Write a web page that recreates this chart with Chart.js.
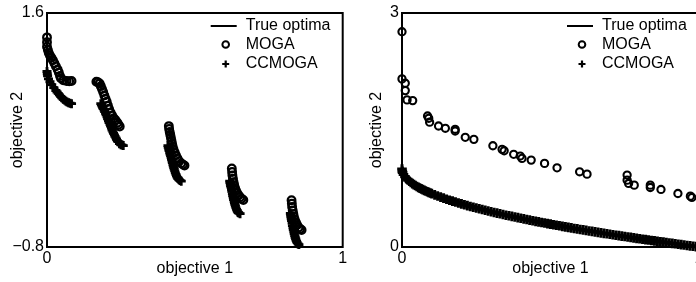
<!DOCTYPE html>
<html>
<head>
<meta charset="utf-8">
<script src="https://cdn.jsdelivr.net/npm/chart.js@4.4.1/dist/chart.umd.min.js"></script>
<style>
  html, body { margin: 0; padding: 0; background: #fff; overflow: hidden; }
  #wrap { position: relative; width: 696px; height: 282px; overflow: hidden; }
  canvas { position: absolute; top: 0; }
  #left { left: 0; }
  #right { left: 350px; }
</style>
</head>
<body>
<div id="wrap">
  <canvas id="left" width="350" height="282"></canvas>
  <canvas id="right" width="360" height="282"></canvas>
</div>
<script>
// DADOS
const xTicks = [0, 1];
const leftYTicks = [-0.8, 1.6];
const rightYTicks = [0, 3];
const legendLabels = ['True optima', 'MOGA', 'CCMOGA'];

// esquerda: frente descontinua (5 trechos)
const leftTrue = [
  [[0, 1.0], [0.01, 0.895], [0.025, 0.825], [0.04, 0.765], [0.06, 0.705], [0.083, 0.67]],
  [[0.182, 0.67], [0.19, 0.62], [0.2, 0.555], [0.21, 0.475], [0.22, 0.4], [0.23, 0.335], [0.24, 0.28], [0.25, 0.25], [0.258, 0.24]],
  [[0.409, 0.24], [0.415, 0.17], [0.421, 0.1], [0.427, 0.03], [0.434, -0.04], [0.442, -0.095], [0.454, -0.125]],
  [[0.618, -0.125], [0.622, -0.185], [0.628, -0.275], [0.634, -0.35], [0.641, -0.415], [0.653, -0.458]],
  [[0.823, -0.455], [0.827, -0.53], [0.833, -0.625], [0.839, -0.7], [0.846, -0.755], [0.852, -0.775]]
];
const leftMoga = [
  [0, 1.35], [0, 1.3], [0, 1.254], [0.003, 1.22], [0.006, 1.19], [0.01, 1.165], [0.015, 1.14], [0.02, 1.115],
  [0.025, 1.085], [0.03, 1.055], [0.036, 1.02], [0.04, 0.99], [0.044, 0.955], [0.047, 0.93], [0.055, 0.91],
  [0.066, 0.903], [0.075, 0.9], [0.083, 0.903],
  [0.167, 0.895], [0.172, 0.89], [0.178, 0.878], [0.182, 0.85], [0.186, 0.82], [0.19, 0.79], [0.194, 0.755],
  [0.198, 0.72], [0.202, 0.69], [0.206, 0.65], [0.21, 0.615], [0.215, 0.58], [0.22, 0.55], [0.226, 0.52],
  [0.232, 0.5], [0.238, 0.475], [0.242, 0.455], [0.246, 0.435],
  [0.412, 0.44], [0.413, 0.41], [0.415, 0.38], [0.417, 0.35], [0.419, 0.32], [0.421, 0.29], [0.423, 0.26],
  [0.425, 0.23], [0.428, 0.2], [0.432, 0.17], [0.436, 0.14], [0.441, 0.11], [0.447, 0.08], [0.454, 0.058],
  [0.46, 0.045], [0.465, 0.035],
  [0.625, 0.005], [0.626, -0.03], [0.627, -0.065], [0.629, -0.1], [0.631, -0.135], [0.633, -0.165],
  [0.636, -0.195], [0.639, -0.22], [0.643, -0.245], [0.648, -0.27], [0.653, -0.29], [0.658, -0.305], [0.664, -0.318],
  [0.827, -0.32], [0.828, -0.355], [0.829, -0.39], [0.831, -0.425], [0.833, -0.46], [0.835, -0.49],
  [0.838, -0.52], [0.842, -0.55], [0.846, -0.575], [0.851, -0.6], [0.856, -0.615], [0.861, -0.625]
];
const leftCcmoga = [
  [0, 1.0], [0.001, 0.975], [0.002, 0.955], [0.005, 0.925], [0.01, 0.895], [0.016, 0.865], [0.023, 0.835], [0.03, 0.805],
  [0.034, 0.79], [0.038, 0.775], [0.042, 0.76], [0.046, 0.745], [0.05, 0.73], [0.055, 0.715], [0.06, 0.705],
  [0.064, 0.695], [0.068, 0.687], [0.073, 0.68], [0.078, 0.675], [0.083, 0.67],
  [0.182, 0.67], [0.184, 0.657], [0.186, 0.645], [0.188, 0.632], [0.19, 0.62], [0.193, 0.605], [0.195, 0.59],
  [0.198, 0.572], [0.2, 0.555], [0.203, 0.535], [0.205, 0.515], [0.208, 0.495], [0.21, 0.475], [0.213, 0.458],
  [0.215, 0.44], [0.218, 0.42], [0.22, 0.4], [0.223, 0.382], [0.225, 0.365], [0.228, 0.35], [0.23, 0.335],
  [0.233, 0.32], [0.235, 0.305], [0.238, 0.292], [0.24, 0.28], [0.245, 0.26], [0.25, 0.25], [0.254, 0.245], [0.258, 0.24],
  [0.409, 0.24], [0.41, 0.222], [0.412, 0.205], [0.413, 0.188], [0.415, 0.17], [0.416, 0.152], [0.418, 0.135],
  [0.42, 0.118], [0.421, 0.1], [0.423, 0.082], [0.424, 0.065], [0.426, 0.048], [0.427, 0.03], [0.429, 0.015],
  [0.43, 0], [0.432, -0.02], [0.434, -0.04], [0.436, -0.055], [0.438, -0.07], [0.44, -0.083], [0.442, -0.095],
  [0.445, -0.103], [0.447, -0.11], [0.45, -0.118], [0.454, -0.125],
  [0.618, -0.125], [0.619, -0.14], [0.62, -0.155], [0.621, -0.17], [0.622, -0.185], [0.624, -0.208], [0.625, -0.23],
  [0.627, -0.252], [0.628, -0.275], [0.63, -0.295], [0.631, -0.315], [0.633, -0.333], [0.634, -0.35],
  [0.636, -0.365], [0.637, -0.38], [0.639, -0.398], [0.641, -0.415], [0.643, -0.428], [0.645, -0.44],
  [0.647, -0.446], [0.649, -0.452], [0.653, -0.458],
  [0.823, -0.455], [0.824, -0.472], [0.825, -0.49], [0.826, -0.51], [0.827, -0.53], [0.829, -0.555], [0.83, -0.58],
  [0.832, -0.603], [0.833, -0.625], [0.835, -0.645], [0.836, -0.665], [0.838, -0.683], [0.839, -0.7],
  [0.841, -0.715], [0.842, -0.73], [0.844, -0.743], [0.846, -0.755], [0.849, -0.768], [0.852, -0.775]
];

// direita: frente continua
const rightTrue = [
  [[0, 1], [0.01, 0.9], [0.03, 0.827], [0.06, 0.755], [0.1, 0.684], [0.16, 0.6], [0.25, 0.5], [0.34, 0.417],
   [0.43, 0.344], [0.52, 0.279], [0.61, 0.219], [0.7, 0.163], [0.79, 0.111], [0.88, 0.062], [0.94, 0.03], [1, 0]]
];
const rightMoga = [
  [0, 2.76], [0, 2.155], [0.011, 2.1], [0.011, 2.005], [0.017, 1.886], [0.036, 1.877], [0.086, 1.68],
  [0.09, 1.65], [0.093, 1.6], [0.123, 1.551], [0.146, 1.522], [0.179, 1.509], [0.179, 1.487], [0.213, 1.406],
  [0.242, 1.38], [0.306, 1.298], [0.337, 1.252], [0.344, 1.234], [0.376, 1.188], [0.398, 1.166], [0.404, 1.136],
  [0.435, 1.114], [0.48, 1.072], [0.522, 1.015], [0.598, 0.964], [0.623, 0.934], [0.758, 0.922], [0.758, 0.857],
  [0.763, 0.815], [0.782, 0.793], [0.836, 0.793], [0.836, 0.763], [0.872, 0.738], [0.929, 0.686],
  [0.971, 0.652], [0.976, 0.635]
];
const rightCcmoga = [
  [0, 1.0], [0.001, 0.97], [0.002, 0.955], [0.005, 0.93], [0.01, 0.9], [0.015, 0.877], [0.02, 0.86],
  [0.025, 0.843], [0.03, 0.827], [0.035, 0.813], [0.04, 0.8], [0.045, 0.788], [0.05, 0.776], [0.055, 0.765],
  [0.06, 0.755], [0.065, 0.745], [0.07, 0.735], [0.075, 0.726], [0.08, 0.717], [0.085, 0.708], [0.09, 0.7],
  [0.095, 0.692], [0.1, 0.684], [0.11, 0.668], [0.12, 0.654], [0.13, 0.639], [0.14, 0.626], [0.15, 0.613],
  [0.16, 0.6], [0.17, 0.588], [0.18, 0.576], [0.19, 0.564], [0.2, 0.553], [0.21, 0.542], [0.22, 0.531],
  [0.23, 0.52], [0.24, 0.51], [0.25, 0.5], [0.26, 0.49], [0.27, 0.48], [0.28, 0.471], [0.29, 0.461],
  [0.3, 0.452], [0.31, 0.443], [0.32, 0.434], [0.33, 0.426], [0.34, 0.417], [0.35, 0.408], [0.36, 0.4],
  [0.37, 0.392], [0.38, 0.384], [0.39, 0.376], [0.4, 0.368], [0.41, 0.36], [0.42, 0.352], [0.43, 0.344],
  [0.44, 0.337], [0.45, 0.329], [0.46, 0.322], [0.47, 0.314], [0.48, 0.307], [0.49, 0.3], [0.5, 0.293],
  [0.51, 0.286], [0.52, 0.279], [0.53, 0.272], [0.54, 0.265], [0.55, 0.258], [0.56, 0.252], [0.57, 0.245],
  [0.58, 0.238], [0.59, 0.232], [0.6, 0.225], [0.61, 0.219], [0.62, 0.213], [0.63, 0.206], [0.64, 0.2],
  [0.65, 0.194], [0.66, 0.188], [0.67, 0.181], [0.68, 0.175], [0.69, 0.169], [0.7, 0.163], [0.71, 0.157],
  [0.72, 0.151], [0.73, 0.146], [0.74, 0.14], [0.75, 0.134], [0.76, 0.128], [0.77, 0.123], [0.78, 0.117],
  [0.79, 0.111], [0.8, 0.106], [0.81, 0.1], [0.82, 0.094], [0.83, 0.089], [0.84, 0.083], [0.85, 0.078],
  [0.86, 0.073], [0.87, 0.067], [0.88, 0.062], [0.89, 0.057], [0.9, 0.051], [0.91, 0.046], [0.92, 0.041],
  [0.93, 0.036], [0.94, 0.03], [0.95, 0.025], [0.96, 0.02], [0.97, 0.015], [0.98, 0.01], [0.99, 0.005], [1.0, 0]
];

const FONT = { family: '"Liberation Sans", Arial, sans-serif', size: 16 };
const toPts = arr => arr.map(p => ({ x: p[0], y: p[1] }));
const fmt = v => String(v).replace('-', '\u2212');

// legenda dentro da area + moldura
const legendBox = {
  id: 'legendBox',
  afterDraw(chart) {
    const { ctx, chartArea: a } = chart;
    const xm = a.right - 117;
    const ys = [a.top + 13, a.top + 31.5, a.top + 51];
    ctx.save();
    ctx.strokeStyle = '#000';
    ctx.fillStyle = '#000';
    ctx.lineWidth = 2;
    ctx.beginPath();
    ctx.moveTo(a.right - 132, ys[0]);
    ctx.lineTo(a.right - 106, ys[0]);
    ctx.stroke();
    ctx.lineWidth = 2;
    ctx.beginPath();
    ctx.arc(xm, ys[1], 3.3, 0, Math.PI * 2);
    ctx.stroke();
    ctx.lineWidth = 2.2;
    ctx.beginPath();
    ctx.moveTo(xm - 3.5, ys[2]); ctx.lineTo(xm + 3.5, ys[2]);
    ctx.moveTo(xm, ys[2] - 3.5); ctx.lineTo(xm, ys[2] + 3.5);
    ctx.stroke();
    ctx.font = FONT.size + 'px ' + FONT.family;
    ctx.textBaseline = 'middle';
    legendLabels.forEach((t, i) => ctx.fillText(t, a.right - 97, ys[i]));
    ctx.lineWidth = 2;
    ctx.strokeRect(a.left, a.top, a.right - a.left, a.bottom - a.top);
    ctx.restore();
  }
};

function makeChart(id, o) {
  const datasets = [
    {
      label: 'CCMOGA', data: toPts(o.cc), showLine: false, clip: false,
      pointStyle: 'cross', pointRadius: o.crossR, pointBorderWidth: o.crossW,
      pointBorderColor: '#000', pointBackgroundColor: '#000'
    },
    {
      label: 'MOGA', data: toPts(o.moga), showLine: false, clip: false,
      pointStyle: 'circle', pointRadius: o.circR, pointBorderWidth: o.circW,
      pointBorderColor: '#000', pointBackgroundColor: 'rgba(0,0,0,0)'
    }
  ].concat(o.trueSegs.map(seg => ({
    label: 'True optima', data: toPts(seg), showLine: true, pointRadius: 0,
    borderColor: '#000', borderWidth: 2, tension: 0, fill: false
  })));

  return new Chart(document.getElementById(id), {
    type: 'scatter',
    data: { datasets },
    options: {
      responsive: false,
      animation: false,
      events: [],
      devicePixelRatio: 1,
      layout: { padding: { left: 0, top: 13, right: o.padRight, bottom: 0 } },
      plugins: { legend: { display: false }, tooltip: { enabled: false } },
      scales: {
        x: {
          type: 'linear', min: 0, max: 1,
          grid: { display: false, drawTicks: false }, border: { display: false },
          afterBuildTicks: s => { s.ticks = xTicks.map(v => ({ value: v })); },
          afterFit: s => { s.height = 35; },
          ticks: { padding: 2, color: '#000', font: FONT, maxRotation: 0, autoSkip: false, callback: v => fmt(v) },
          title: { display: true, text: 'objective 1', color: '#000', font: FONT, padding: { top: 0, bottom: 4 } }
        },
        y: {
          type: 'linear', min: o.yTicks[0], max: o.yTicks[1],
          grid: { display: false, drawTicks: false }, border: { display: false },
          afterBuildTicks: s => { s.ticks = o.yTicks.map(v => ({ value: v })); },
          afterFit: s => { s.width = o.yWidth; },
          ticks: { padding: 3, color: '#000', font: FONT, autoSkip: false, callback: v => fmt(v) },
          title: { display: true, text: 'objective 2', color: '#000', font: FONT, padding: { top: o.titlePad, bottom: 0 } }
        }
      }
    },
    plugins: [legendBox]
  });
}

makeChart('left', {
  cc: leftCcmoga, moga: leftMoga, trueSegs: leftTrue, yTicks: leftYTicks,
  crossR: 4.5, crossW: 2.8, circR: 3.8, circW: 2.3, padRight: 6, yWidth: 47, titlePad: 8
});

makeChart('right', {
  cc: rightCcmoga, moga: rightMoga, trueSegs: rightTrue, yTicks: rightYTicks,
  crossR: 4.8, crossW: 3, circR: 3.6, circW: 2.1, padRight: 11, yWidth: 52, titlePad: 17
});
</script>
</body>
</html>
